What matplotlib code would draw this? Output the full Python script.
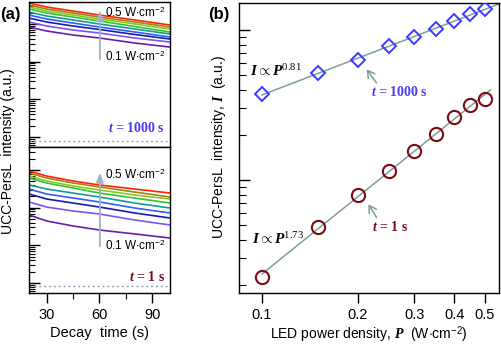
import numpy as np
import matplotlib
matplotlib.use("Agg")
import matplotlib.pyplot as plt

plt.rcParams['font.family'] = ['Liberation Sans', 'DejaVu Sans']
plt.rcParams['mathtext.fontset'] = 'custom'
plt.rcParams['mathtext.rm'] = 'Liberation Serif'
plt.rcParams['mathtext.it'] = 'Liberation Serif:italic'
plt.rcParams['mathtext.bf'] = 'Liberation Serif:bold'
plt.rcParams['mathtext.bfit'] = 'Liberation Serif:italic:bold'
plt.rcParams['mathtext.sf'] = 'Liberation Sans'

# ---------------- data ----------------
# (a) decay curves, arbitrary units, one row per LED power 0.1 ... 0.5 W/cm2
decay_t = [20, 30, 45, 60, 80, 100]
decay_1000s = [
    [8330, 6520, 5110, 4250, 3130, 2450],     # 0.10
    [11300, 8850, 6930, 5770, 4250, 3330],    # 0.15
    [14400, 11300, 8850, 7150, 5270, 4000],   # 0.20
    [17300, 13600, 10600, 8330, 6140, 4520],  # 0.25
    [20800, 16300, 12800, 10000, 7370, 5430], # 0.30
    [25000, 19600, 15300, 12000, 8580, 6140], # 0.35
    [28300, 22100, 17300, 13600, 10000, 7370],# 0.40
    [31900, 25000, 19600, 15300, 11300, 8330],# 0.45
    [36100, 28300, 22100, 17300, 12800, 9400],# 0.50
]
decay_1s = [
    [641, 445, 327, 256, 201, 157],
    [1420, 1040, 818, 680, 471, 348],
    [2310, 1700, 1330, 1040, 723, 532],
    [3130, 2310, 1810, 1420, 981, 724],
    [4000, 3130, 2450, 1920, 1330, 981],
    [6140, 4520, 3330, 2450, 1800, 1330],
    [6930, 5110, 3760, 2950, 2170, 1700],
    [8330, 6140, 4520, 3540, 2600, 1920],
    [9410, 6930, 5110, 4000, 3130, 2450],
]
baseline_1000s = 7.9
baseline_1s = 8.4
curve_colors = ['#6a1fa8', '#7a55f0', '#1a1ab0', '#2f5ff5', '#139c8c',
                '#2ec43a', '#8cc81a', '#9c8418', '#ff2200']

# (b) integrated intensity vs LED power density
power = [0.1, 0.15, 0.2, 0.25, 0.3, 0.35, 0.4, 0.45, 0.5]
I_1000s = [374, 517, 631, 782, 898, 1015, 1148, 1278, 1380]
I_1s = [22.6, 48.6, 79.4, 115, 156, 203, 263, 316, 347]
power_ticks = [0.1, 0.2, 0.3, 0.4, 0.5]

# ---------------- figure ----------------
fig = plt.figure(figsize=(5.01, 3.45), dpi=100)
ax_top = fig.add_axes([0.0579, 0.5739, 0.2814, 0.4203])
ax_bot = fig.add_axes([0.0579, 0.1507, 0.2814, 0.4232])
ax_b = fig.add_axes([0.4770, 0.1507, 0.5190, 0.8406])

def style_decay(ax, ylim):
    ax.set_yscale('log')
    ax.set_xlim(20, 100)
    ax.set_ylim(*ylim)
    ax.set_xticks([30, 60, 90])
    ax.set_xticks([45, 75], minor=True)
    ax.tick_params(axis='y', which='both', direction='in', labelleft=False)
    ax.tick_params(axis='y', which='major', length=8, width=1)
    ax.tick_params(axis='y', which='minor', length=4, width=0.8)
    ax.tick_params(axis='x', which='major', direction='out', length=7, width=1, labelsize=10.5)
    ax.tick_params(axis='x', which='minor', direction='out', length=4, width=0.8)
    for s in ax.spines.values():
        s.set_linewidth(1.0)

lbl_kw = dict(fontsize=8.5)
arrow_kw = dict(arrowstyle='-|>,head_length=0.55,head_width=0.22', color='#9fb3c8', lw=1.3)
serif_bold = dict(family='Liberation Serif', weight='bold', fontsize=10)

for ax, curves, base, ylim, ttxt, tcol, ypos in [
        (ax_top, decay_1000s, baseline_1000s, (5.45, 38400), r'$\mathbfit{t}$ = 1000 s', '#4b3cf0',
         (0.959, 0.586, 0.924, 0.621, 0.131)),
        (ax_bot, decay_1s, baseline_1s, (5.45, 40800), r'$\mathbfit{t}$ = 1 s', '#6e0f1a',
         (0.842, 0.301, 0.808, 0.322, 0.110))]:
    for vals, c in zip(curves, curve_colors):
        ax.plot(decay_t, vals, color=c, lw=1.2)
    ax.axhline(base, color='#8fa0b8', lw=1.0, ls=(0, (1.5, 2)))
    style_decay(ax, ylim)
    ax.annotate('', xy=(0.503, ypos[0]), xytext=(0.503, ypos[1]), xycoords='axes fraction',
                arrowprops=arrow_kw)
    ax.text(0.539, ypos[2], r'0.5 W$\cdot$cm$^{\mathsf{-2}}$', transform=ax.transAxes,
            va='center', ha='left', **lbl_kw)
    ax.text(0.539, ypos[3], r'0.1 W$\cdot$cm$^{\mathsf{-2}}$', transform=ax.transAxes,
            va='center', ha='left', **lbl_kw)
    ax.text(0.965, ypos[4], ttxt, transform=ax.transAxes, va='center', ha='right',
            color=tcol, **serif_bold)

ax_top.tick_params(axis='x', labelbottom=False)
ax_bot.set_xlabel('Decay  time (s)', fontsize=10.5, labelpad=3)

fig.text(8 / 501, 1 - 151 / 345, 'UCC-PersL  intensity (a.u.)', rotation=90,
         ha='center', va='center', fontsize=10)
fig.text(0.0, 1 - 15 / 345, '(a)', fontsize=12, weight='bold', ha='left', va='center')
fig.text(208 / 501, 1 - 15 / 345, '(b)', fontsize=12, weight='bold', ha='left', va='center')

# ---------------- panel (b) ----------------
line_col = '#7f9c9e'
p = np.array(power)
for vals, pmax in [(I_1000s, 0.56), (I_1s, 0.52)]:
    k, b0 = np.polyfit(np.log10(p), np.log10(vals), 1)
    px = np.array([0.1, pmax])
    ax_b.plot(px, 10 ** (b0 + k * np.log10(px)), color=line_col, lw=1.1, zorder=2)

ax_b.plot(power, I_1000s, ls='none', marker='D', ms=7.5, mfc='none', mec='#3a3aff',
          mew=1.4, zorder=3)
ax_b.plot(power, I_1s, ls='none', marker='o', ms=9.5, mfc='none', mec='#7a0c10',
          mew=1.5, zorder=3)

ax_b.set_xscale('log')
ax_b.set_yscale('log')
ax_b.set_xlim(0.0847, 0.553)
ax_b.set_ylim(17.65, 1513)
ax_b.set_xticks(power_ticks)
ax_b.set_xticklabels([str(v) for v in power_ticks])
ax_b.xaxis.set_minor_locator(matplotlib.ticker.NullLocator())
ax_b.tick_params(axis='x', which='major', direction='out', length=7, width=1, labelsize=10.5)
ax_b.tick_params(axis='y', which='both', direction='in', labelleft=False)
ax_b.tick_params(axis='y', which='major', length=8, width=1)
ax_b.tick_params(axis='y', which='minor', length=5, width=0.8)
for s in ax_b.spines.values():
    s.set_linewidth(1.0)
ax_b.set_xlabel(r'LED power density, $\mathbfit{P}$  (W$\cdot$cm$^{\mathsf{-2}}$)',
                fontsize=10, labelpad=2)
fig.text(219 / 501, 1 - 147 / 345, r'UCC-PersL  intensity, $\mathbfit{I}$  (a.u.)',
         rotation=90, ha='center', va='center', fontsize=10)

ax_b.text(0.042, 0.766, r'$\mathbfit{I}\propto\mathbfit{P}^{0.81}$', transform=ax_b.transAxes,
          fontsize=11, va='center', ha='left')
ax_b.text(0.05, 0.186, r'$\mathbfit{I}\propto\mathbfit{P}^{1.73}$', transform=ax_b.transAxes,
          fontsize=11, va='center', ha='left')
ax_b.text(0.619, 0.693, r'$\mathbfit{t}$ = 1000 s', transform=ax_b.transAxes,
          va='center', ha='center', color='#4b3cf0', **serif_bold)
ax_b.text(0.581, 0.228, r'$\mathbfit{t}$ = 1 s', transform=ax_b.transAxes,
          va='center', ha='center', color='#6e0f1a', **serif_bold)
arr_b = dict(arrowstyle='->,head_length=0.5,head_width=0.3', color=line_col, lw=1.1)
ax_b.annotate('', xy=(0.485, 0.779), xytext=(0.535, 0.717), xycoords='axes fraction',
              arrowprops=arr_b)
ax_b.annotate('', xy=(0.492, 0.314), xytext=(0.535, 0.252), xycoords='axes fraction',
              arrowprops=arr_b)

fig.savefig('out.png', dpi=100)
